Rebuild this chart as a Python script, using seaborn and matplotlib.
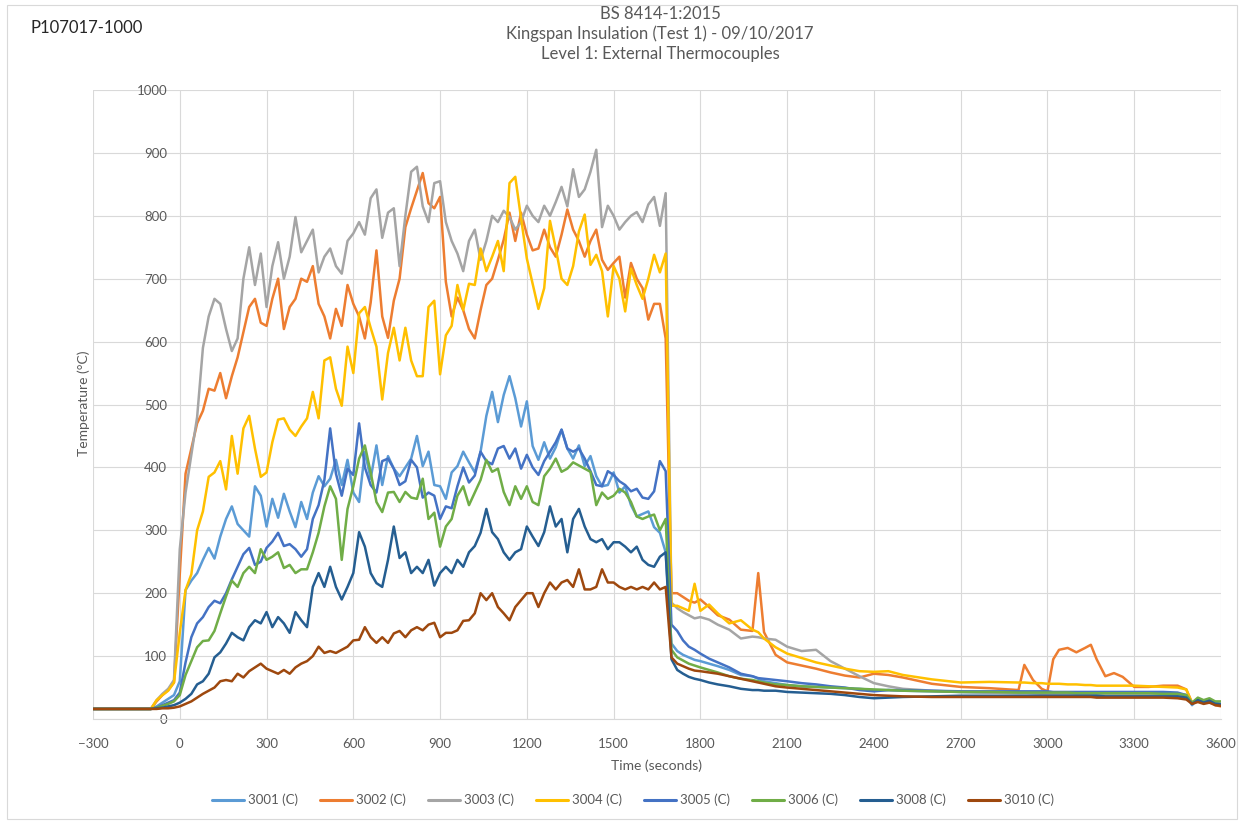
"""BS 8414-1 level 1 external thermocouple traces, redrawn with seaborn."""
import matplotlib
matplotlib.use("Agg")
import matplotlib.pyplot as plt
from matplotlib.patches import Rectangle
import numpy as np
import pandas as pd
import seaborn as sns

# time grid: one pre-test point, fire phase every 20 s, then the cooling tail
PRE_TIME = [-300]
FIRE_TIME = list(range(-100, 1700, 20))
DECAY_TIME = [1700, 1720, 1740, 1760, 1780, 1800, 1830, 1860, 1900, 1940,
              1980, 2000, 2020, 2060, 2100, 2150, 2200, 2250, 2300, 2350,
              2400, 2450, 2500, 2600, 2700, 2800, 2900, 2920, 2950, 2980,
              3000, 3020, 3040, 3070, 3100, 3130, 3150, 3170, 3200, 3230,
              3260, 3300, 3350, 3400, 3450, 3480, 3500, 3520, 3540, 3560,
              3580, 3600]

SENSORS = ["3001 (C)", "3002 (C)", "3003 (C)", "3004 (C)",
           "3005 (C)", "3006 (C)", "3008 (C)", "3010 (C)"]
COLORS = ["#5B9BD5", "#ED7D31", "#A5A5A5", "#FFC000",
          "#4472C4", "#70AD47", "#255E91", "#9E480E"]
BASELINE = 16

fire_3001 = [16, 20, 26, 32, 38, 60, 205, 220, 232, 253,
             272, 255, 290, 318, 338, 310, 300, 290, 370, 355,
             306, 350, 320, 358, 330, 305, 345, 318, 360, 386,
             370, 382, 412, 372, 412, 360, 345, 425, 382, 435,
             372, 418, 398, 386, 400, 414, 450, 402, 425, 372,
             370, 350, 392, 402, 425, 408, 392, 425, 482, 520,
             472, 515, 545, 510, 465, 505, 434, 412, 440, 414,
             432, 460, 430, 414, 435, 402, 418, 386, 370, 372,
             392, 360, 370, 340, 322, 326, 330, 305, 296, 265]
decay_3001 = [120, 108, 102, 98, 94, 92, 88, 84, 78, 70,
              68, 64, 60, 57, 54, 52, 51, 50, 49, 48,
              46, 46, 45, 44, 43, 42, 42, 42, 41, 41,
              41, 41, 41, 41, 41, 40, 40, 40, 40, 40,
              40, 40, 40, 40, 40, 38, 22, 32, 26, 30,
              26, 24]

fire_3002 = [16, 28, 38, 46, 58, 230, 390, 430, 470, 490,
             525, 522, 550, 510, 545, 575, 615, 655, 668, 630,
             625, 668, 700, 620, 655, 668, 700, 695, 720, 660,
             640, 605, 652, 625, 690, 660, 640, 605, 662, 745,
             640, 606, 665, 700, 782, 812, 840, 868, 820, 812,
             830, 695, 640, 670, 650, 620, 605, 650, 690, 700,
             730, 762, 805, 760, 805, 770, 745, 748, 778, 750,
             735, 770, 810, 778, 760, 735, 760, 778, 730, 714,
             725, 735, 670, 725, 700, 685, 635, 660, 660, 605]
decay_3002 = [200, 200, 194, 188, 185, 190, 178, 165, 158, 142,
              140, 232, 138, 102, 90, 85, 80, 74, 69, 66,
              72, 70, 66, 56, 51, 49, 46, 86, 62, 48,
              44, 95, 110, 113, 106, 113, 118, 95, 68, 73,
              67, 51, 51, 53, 53, 47, 26, 32, 27, 30,
              22, 20]

fire_3003 = [16, 30, 40, 48, 62, 270, 360, 420, 480, 590,
             640, 668, 660, 620, 585, 605, 700, 750, 690, 740,
             655, 720, 758, 700, 735, 798, 742, 760, 778, 710,
             735, 748, 720, 708, 760, 772, 790, 770, 828, 842,
             765, 805, 812, 720, 800, 870, 878, 815, 790, 852,
             855, 790, 760, 740, 712, 760, 778, 730, 760, 800,
             790, 808, 798, 778, 790, 816, 800, 790, 816, 800,
             822, 846, 815, 874, 830, 842, 870, 905, 782, 816,
             800, 778, 790, 800, 806, 790, 818, 830, 784, 836]
decay_3003 = [185, 176, 170, 165, 160, 162, 158, 150, 142, 128,
              131, 130, 128, 126, 115, 108, 110, 92, 80, 68,
              57, 52, 48, 45, 43, 42, 41, 41, 41, 40,
              40, 40, 40, 40, 40, 40, 40, 39, 39, 39,
              39, 39, 38, 38, 38, 36, 24, 30, 26, 30,
              24, 22]

fire_3004 = [16, 30, 38, 45, 58, 137, 205, 230, 300, 330,
             385, 392, 410, 365, 450, 390, 462, 482, 430, 385,
             392, 440, 476, 478, 460, 450, 465, 478, 520, 478,
             570, 575, 525, 498, 592, 550, 645, 655, 622, 592,
             508, 582, 622, 570, 622, 570, 545, 545, 655, 665,
             548, 610, 625, 690, 650, 692, 690, 748, 712, 735,
             760, 712, 852, 862, 796, 732, 692, 652, 685, 792,
             748, 700, 690, 720, 775, 802, 722, 738, 712, 640,
             720, 700, 648, 716, 690, 668, 700, 738, 710, 740]
decay_3004 = [180, 180, 176, 172, 215, 172, 182, 168, 152, 157,
              142, 138, 128, 114, 104, 97, 90, 85, 80, 76,
              75, 76, 70, 63, 58, 59, 58, 58, 57, 57,
              56, 56, 56, 55, 55, 54, 54, 53, 53, 53,
              53, 53, 52, 51, 50, 47, 25, 32, 28, 30,
              24, 22]

fire_3005 = [16, 18, 22, 26, 30, 42, 90, 130, 152, 162,
             178, 188, 184, 200, 222, 242, 262, 272, 245, 250,
             272, 282, 296, 275, 278, 270, 258, 270, 318, 340,
             380, 462, 390, 355, 398, 388, 470, 400, 372, 360,
             410, 414, 398, 372, 378, 412, 400, 352, 360, 355,
             318, 338, 335, 370, 400, 376, 387, 425, 410, 405,
             430, 434, 414, 430, 398, 420, 400, 388, 410, 425,
             440, 460, 430, 425, 430, 414, 394, 372, 370, 394,
             388, 378, 372, 362, 366, 352, 350, 362, 410, 394]
decay_3005 = [150, 140, 125, 115, 110, 104, 96, 90, 82, 72,
              68, 65, 64, 62, 60, 57, 55, 52, 50, 46,
              44, 46, 46, 45, 44, 44, 44, 44, 44, 44,
              44, 43, 43, 43, 43, 43, 43, 43, 43, 43,
              43, 43, 43, 43, 42, 38, 24, 30, 27, 31,
              25, 24]

fire_3006 = [16, 18, 21, 24, 28, 38, 70, 92, 114, 124,
             125, 140, 168, 195, 220, 210, 232, 242, 232, 270,
             253, 258, 265, 240, 245, 232, 238, 238, 265, 296,
             338, 370, 350, 253, 334, 370, 414, 435, 392, 345,
             329, 360, 361, 345, 361, 352, 350, 382, 318, 328,
             274, 306, 318, 355, 370, 340, 360, 380, 412, 393,
             398, 361, 340, 370, 350, 370, 345, 340, 386, 398,
             414, 393, 398, 408, 403, 398, 393, 340, 360, 350,
             355, 366, 360, 345, 322, 318, 322, 325, 300, 318]
decay_3006 = [110, 98, 93, 88, 85, 82, 78, 74, 68, 64,
              62, 60, 58, 55, 54, 52, 51, 50, 49, 48,
              47, 46, 45, 44, 43, 43, 42, 42, 42, 42,
              42, 42, 42, 42, 41, 41, 41, 41, 41, 41,
              41, 41, 41, 40, 40, 38, 26, 34, 30, 33,
              28, 28]

fire_3008 = [16, 17, 18, 20, 22, 26, 32, 40, 55, 60,
             72, 98, 106, 120, 137, 130, 125, 146, 157, 152,
             170, 146, 162, 152, 137, 170, 157, 146, 210, 232,
             210, 242, 210, 190, 210, 232, 297, 274, 232, 216,
             210, 253, 306, 256, 265, 232, 242, 232, 253, 212,
             232, 242, 232, 253, 242, 265, 275, 296, 334, 297,
             286, 265, 253, 265, 270, 306, 290, 275, 297, 338,
             306, 318, 265, 318, 334, 306, 286, 281, 286, 270,
             281, 281, 274, 265, 274, 253, 245, 242, 258, 265]
decay_3008 = [95, 78, 72, 67, 64, 62, 58, 55, 52, 48,
              46, 46, 45, 45, 43, 42, 41, 40, 38, 35,
              33, 34, 35, 36, 37, 37, 37, 37, 37, 37,
              37, 37, 37, 37, 37, 37, 37, 37, 36, 36,
              36, 36, 36, 36, 36, 34, 24, 30, 26, 29,
              24, 23]

fire_3010 = [16, 16, 17, 17, 18, 20, 24, 28, 34, 40,
             45, 50, 60, 62, 60, 72, 66, 76, 82, 88,
             80, 76, 72, 78, 72, 82, 88, 92, 100, 115,
             105, 108, 105, 110, 115, 125, 126, 146, 130, 121,
             130, 121, 136, 140, 130, 141, 146, 141, 150, 153,
             130, 137, 137, 141, 156, 157, 168, 200, 189, 200,
             178, 168, 157, 178, 189, 200, 200, 178, 200, 217,
             206, 217, 221, 210, 238, 206, 206, 210, 238, 217,
             217, 210, 206, 210, 206, 210, 206, 217, 206, 210]
decay_3010 = [98, 88, 84, 80, 77, 76, 74, 72, 68, 64,
              60, 58, 56, 52, 50, 48, 46, 44, 42, 40,
              38, 37, 36, 35, 35, 35, 35, 35, 35, 35,
              35, 35, 35, 35, 35, 35, 35, 34, 34, 34,
              34, 34, 34, 34, 33, 31, 24, 27, 24, 26,
              22, 21]

FIRE = [fire_3001, fire_3002, fire_3003, fire_3004,
        fire_3005, fire_3006, fire_3008, fire_3010]
DECAY = [decay_3001, decay_3002, decay_3003, decay_3004,
         decay_3005, decay_3006, decay_3008, decay_3010]

X_TICKS = list(range(-300, 3601, 300))
Y_TICKS = list(range(0, 1001, 100))

TEXT = "#595959"
GRID = "#D9D9D9"
W, H = 1240, 821

# long-form table for seaborn
times = PRE_TIME + FIRE_TIME + DECAY_TIME
frames = []
for name, fire, decay in zip(SENSORS, FIRE, DECAY):
    temps = [BASELINE] + fire + decay
    frames.append(pd.DataFrame({"time": times, "temp": temps, "sensor": name}))
df = pd.concat(frames, ignore_index=True)

sns.set_style("white")
plt.rcParams["font.family"] = ["Lato", "DejaVu Sans"]

fig = plt.figure(figsize=(W / 100, H / 100), dpi=100)
ax = fig.add_axes([93 / W, 1 - 719 / H, (1221 - 93) / W, (719 - 90) / H])

sns.lineplot(data=df, x="time", y="temp", hue="sensor", hue_order=SENSORS,
             palette=COLORS, estimator=None, sort=False, linewidth=1.8, ax=ax)

ax.set_xlim(-300, 3600)
ax.set_ylim(0, 1000)
ax.set_xticks(X_TICKS)
ax.set_yticks(Y_TICKS)
ax.grid(True, color=GRID, linewidth=0.8)
ax.set_axisbelow(True)

# value axis crosses at x = 0, like the spreadsheet original
ax.spines["left"].set_position(("data", 0))
ax.spines["left"].set_color("none")
ax.spines["top"].set_visible(False)
ax.spines["right"].set_visible(False)
ax.spines["bottom"].set_color(GRID)
ax.tick_params(axis="both", length=0, labelsize=9.5, labelcolor=TEXT)
ax.tick_params(axis="y", pad=9)
ax.tick_params(axis="x", pad=14)
ax.set_xlabel("")
ax.set_ylabel("")

handles, labels = ax.get_legend_handles_labels()
ax.get_legend().remove()
leg = fig.legend(handles, labels, loc="center", bbox_to_anchor=(633 / W, 1 - 800 / H),
                 ncol=8, frameon=False, fontsize=9.5, handlelength=2.45,
                 handletextpad=0.3, columnspacing=1.65)
for t in leg.get_texts():
    t.set_color(TEXT)
for line in leg.get_lines():
    line.set_linewidth(2.2)

title_lines = ["BS 8414-1:2015", "Kingspan Insulation (Test 1) - 09/10/2017",
               "Level 1: External Thermocouples"]
for i, line in enumerate(title_lines):
    fig.text(660 / W, 1 - (14 + 20 * i) / H, line, ha="center", va="center",
             fontsize=12, color=TEXT)

fig.text(30 / W, 1 - 28 / H, "P107017-1000", ha="left", va="center",
         fontsize=12, color="#262626")
fig.text(657 / W, 1 - 766 / H, "Time (seconds)", ha="center", va="center",
         fontsize=10, color=TEXT)
fig.text(84 / W, 1 - 403 / H, "Temperature (°C)", ha="center", va="center",
         rotation=90, fontsize=10, color=TEXT)

fig.patches.append(Rectangle((7 / W, 2 / H), (1237 - 7) / W, (816 - 2) / H,
                             transform=fig.transFigure, fill=False,
                             edgecolor=GRID, linewidth=0.8))

fig.savefig("out.png", dpi=100)
